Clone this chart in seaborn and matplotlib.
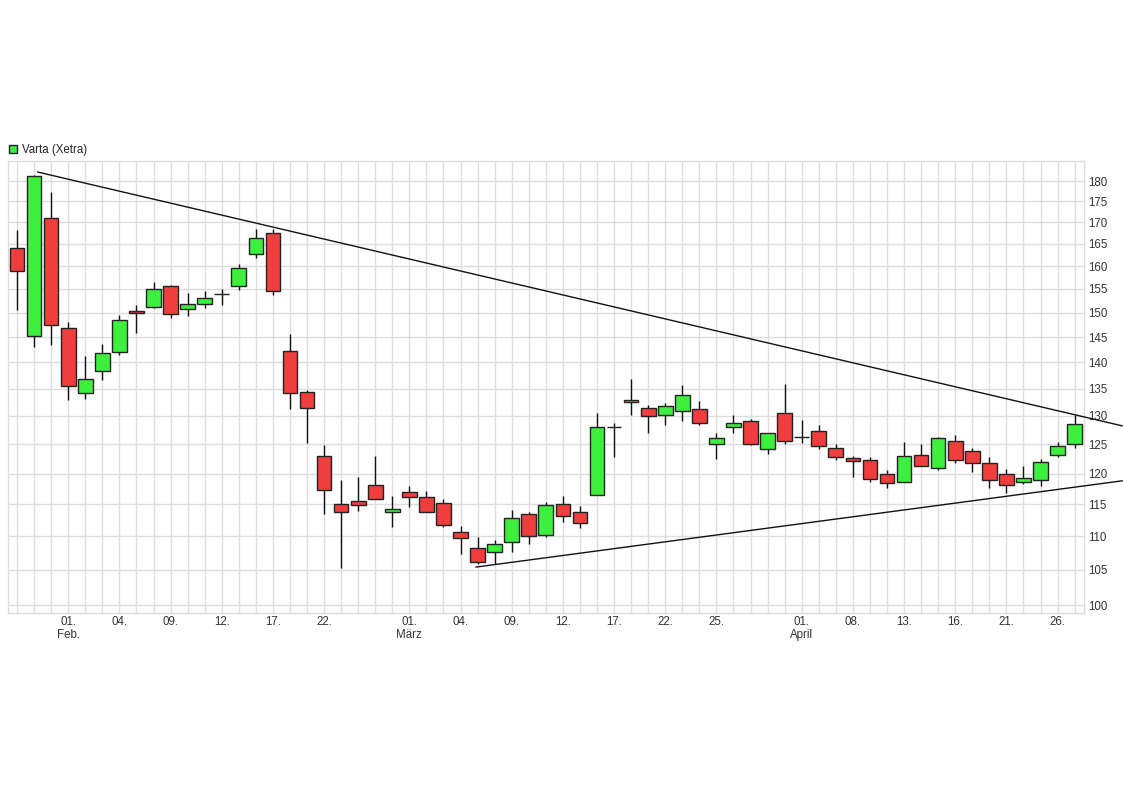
import numpy as np
import pandas as pd
import seaborn as sns
import matplotlib
matplotlib.use("Agg")
import matplotlib.pyplot as plt
from matplotlib.patches import Patch

# Varta (Xetra) daily candles, 27 Jan - 27 Apr 2021
dates = pd.bdate_range("2021-01-27", "2021-04-27")
dates = dates[~dates.isin(pd.to_datetime(["2021-04-02", "2021-04-05"]))]

opens = [164.1, 145.2, 171.1, 146.8, 134.1, 138.4, 142.0, 150.3, 151.2, 155.6,
         150.8, 151.9, 153.9, 155.7, 162.6, 167.5, 142.2, 134.3, 122.9, 115.1,
         115.5, 118.1, 113.7, 117.0, 116.2, 115.2, 110.6, 108.2, 107.6, 109.1,
         113.5, 110.2, 115.0, 113.7, 116.5, 128.0, 132.5, 131.4, 130.1, 130.8,
         131.2, 125.1, 128.0, 129.1, 124.2, 130.5, 126.3, 127.3, 124.4, 122.6,
         122.2, 120.0, 118.6, 123.2, 121.0, 125.6, 123.8, 121.7, 120.0, 118.6,
         119.0, 123.1, 125.1]
highs = [168.1, 181.6, 177.2, 148.1, 141.3, 143.6, 149.5, 151.6, 156.5, 155.8,
         154.2, 154.6, 155.1, 160.5, 168.5, 168.4, 145.6, 134.7, 124.8, 118.9,
         119.5, 123.0, 116.3, 117.9, 117.1, 115.8, 111.6, 109.9, 109.4, 114.1,
         113.7, 115.4, 116.3, 114.7, 130.6, 128.8, 136.9, 132.0, 132.4, 135.7,
         132.7, 126.9, 130.2, 129.5, 127.0, 135.9, 129.2, 128.3, 125.1, 123.0,
         122.7, 120.6, 125.4, 125.0, 126.2, 126.6, 124.3, 122.7, 120.8, 121.2,
         122.4, 125.4, 130.2]
lows = [150.6, 143.1, 143.5, 132.9, 133.1, 136.6, 141.4, 145.8, 151.0, 148.8,
        149.2, 150.9, 151.6, 154.8, 161.9, 153.8, 131.2, 125.2, 113.5, 105.2,
        113.9, 115.9, 111.5, 114.6, 113.7, 111.5, 107.3, 105.9, 105.9, 107.6,
        108.9, 109.9, 112.2, 111.3, 116.5, 122.7, 130.1, 126.9, 128.3, 129.1,
        128.3, 122.4, 127.0, 124.8, 123.3, 125.1, 125.2, 124.1, 122.2, 119.5,
        118.6, 117.7, 118.6, 121.2, 120.6, 121.8, 120.3, 117.6, 116.8, 118.2,
        118.0, 122.8, 124.4]
closes = [158.9, 181.4, 147.4, 135.4, 136.8, 141.8, 148.4, 150.0, 154.9, 149.7,
          151.9, 153.1, 153.9, 159.5, 166.4, 154.5, 134.1, 131.4, 117.3, 113.7,
          114.9, 115.9, 114.2, 116.2, 113.7, 111.8, 109.7, 106.2, 108.8, 112.9,
          110.0, 114.9, 113.1, 112.0, 128.0, 128.0, 132.8, 129.9, 131.7, 133.9,
          128.7, 126.1, 128.7, 125.1, 126.9, 125.6, 126.3, 124.7, 122.7, 122.1,
          119.1, 118.4, 122.9, 121.3, 126.1, 122.3, 121.7, 118.9, 118.1, 119.2,
          121.9, 124.7, 128.5]

# trend lines (day index, price)
upper_x = [1.2, 64.8]
upper_y = [182.3, 128.2]
lower_x = [26.9, 64.8]
lower_y = [105.4, 118.8]

tick_dates = ["2021-02-01", "2021-02-04", "2021-02-09", "2021-02-12", "2021-02-17",
              "2021-02-22", "2021-03-01", "2021-03-04", "2021-03-09", "2021-03-12",
              "2021-03-17", "2021-03-22", "2021-03-25", "2021-04-01", "2021-04-08",
              "2021-04-13", "2021-04-16", "2021-04-21", "2021-04-26"]
tick_labels = ["01.\nFeb.", "04.", "09.", "12.", "17.", "22.", "01.\nMärz", "04.",
               "09.", "12.", "17.", "22.", "25.", "01.\nApril", "08.", "13.", "16.",
               "21.", "26."]
price_ticks = list(range(100, 185, 5))

df = pd.DataFrame({"date": dates, "open": opens, "high": highs,
                   "low": lows, "close": closes})
df["idx"] = np.arange(len(df))

green = "#3ef03e"
red = "#f03e3e"

sns.set_theme(style="whitegrid")
plt.rcParams["font.family"] = ["Liberation Sans", "DejaVu Sans"]

fig = plt.figure(figsize=(11.23, 7.94), dpi=100)
ax = fig.add_axes([8 / 1123, 1 - 613 / 794, 1076 / 1123, 452 / 794])

up = df["close"] >= df["open"]
colors = np.where(up, green, red)

# wicks
ax.vlines(df["idx"], df["low"], df["high"], color="#111111", linewidth=1, zorder=2)

# bodies
bottoms = np.minimum(df["open"], df["close"])
heights = np.abs(df["close"] - df["open"])
ax.bar(df["idx"], heights, bottom=bottoms, width=0.86, color=colors,
       edgecolor="#222222", linewidth=1, zorder=3)

# trend lines
ax.plot(upper_x, upper_y, color="#111111", linewidth=1, clip_on=False, zorder=4)
ax.plot(lower_x, lower_y, color="#111111", linewidth=1, clip_on=False, zorder=4)

ax.set_yscale("log")
ax.set_ylim(98.9, 185.1)
ax.set_xlim(-0.53, 62.55)

ax.yaxis.tick_right()
ax.set_yticks(price_ticks)
ax.set_yticklabels([str(p) for p in price_ticks])
ax.yaxis.set_minor_locator(matplotlib.ticker.NullLocator())

ax.set_xticks(df["idx"], minor=True)
tick_pos = [int(df.index[df["date"] == pd.Timestamp(d)][0]) for d in tick_dates]
ax.set_xticks(tick_pos)
ax.set_xticklabels(tick_labels, linespacing=1.1)

ax.tick_params(axis="both", which="both", length=0, labelsize=8.3,
               colors="#333333")
ax.tick_params(axis="y", pad=3)
ax.tick_params(axis="x", pad=2)
ax.grid(True, which="both", axis="x", color="#dddddd", linewidth=1)
ax.grid(True, which="major", axis="y", color="#dddddd", linewidth=1)
ax.set_axisbelow(True)
for s in ax.spines.values():
    s.set_color("#dddddd")
    s.set_linewidth(1)

handle = Patch(facecolor=green, edgecolor="#222222", linewidth=1)
fig.legend([handle], ["Varta (Xetra)"], loc="upper left",
           bbox_to_anchor=(9 / 1123, 1 - 144 / 794), frameon=False,
           fontsize=8.3, handlelength=0.7, handleheight=0.7, handletextpad=0.4,
           borderaxespad=0, borderpad=0)

fig.savefig("out.png", dpi=100, facecolor="white")
